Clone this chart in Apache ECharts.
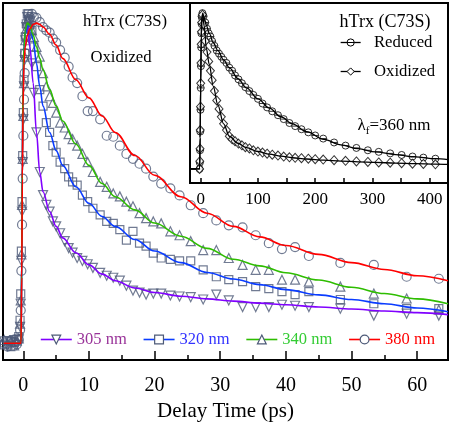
<!DOCTYPE html>
<html><head><meta charset="utf-8">
<script src="https://cdn.jsdelivr.net/npm/echarts@6/dist/echarts.min.js"></script>
<style>html,body{margin:0;padding:0;background:#fff}#c{width:450px;height:427px}</style>
</head><body><div id="c"></div>
<script>
// ---------- main panel: measured transients (normalized) ----------
const delays = [-2.9,-2.4,-1.9,-1.4,-1.0,-0.7,
  -0.5,-0.4,-0.3,-0.2,-0.1,0.0,0.1,0.2,0.3,0.45,0.6,0.8,
  1.0,1.3,1.6,2.0,2.5,3.0,3.5,4.0,4.5,5.0,
  5.6,6.3,6.9,7.5,8.2,9.0,9.8,10.6,
  11.7,12.7,13.7,14.7,15.7,16.7,17.7,18.7,19.8,
  21.0,22.4,23.8,25.5,27.4,29.4,
  31.3,33.4,35.4,37.4,39.4,41.4,43.5,
  48.3,53.4,58.4,63.3];
const sig305 = [0.006,-0.008,0.004,0.01,-0.004,0.012,
  0.05,0.12,0.25,0.4,0.55,0.68,0.78,0.86,0.92,0.96,0.99,0.98,
  0.95,0.85,0.76,0.64,0.52,0.45,0.42,0.4,0.37,0.355,
  0.334,0.31,0.289,0.275,0.259,0.25,0.24,0.229,
  0.214,0.205,0.199,0.19,0.175,0.16,0.154,0.148,0.151,
  0.151,0.145,0.142,0.14,0.133,0.148,
  0.13,0.11,0.11,0.11,0.117,0.114,0.11,
  0.105,0.084,0.09,0.084];
const sig320 = [-0.005,0.008,-0.01,0.003,0.012,0.02,
  0.07,0.15,0.28,0.43,0.57,0.7,0.8,0.88,0.93,0.97,1.0,1.0,
  0.98,0.95,0.9,0.84,0.77,0.72,0.67,0.64,0.6,0.58,
  0.55,0.53,0.505,0.49,0.48,0.45,0.43,0.41,
  0.39,0.37,0.364,0.345,0.313,0.34,0.304,0.295,0.274,
  0.259,0.255,0.25,0.25,0.223,0.202,
  0.193,0.187,0.172,0.166,0.157,0.148,0.157,
  0.133,0.12,0.105,0.105];
const sig340 = [0.01,0.0,0.006,-0.006,0.008,0.015,
  0.06,0.13,0.27,0.42,0.56,0.69,0.79,0.87,0.92,0.955,0.98,0.985,
  0.97,0.95,0.93,0.9,0.87,0.82,0.78,0.75,0.73,0.7,
  0.67,0.655,0.635,0.62,0.6,0.575,0.55,0.52,
  0.49,0.475,0.455,0.446,0.43,0.416,0.395,0.38,0.37,
  0.364,0.34,0.328,0.31,0.283,0.283,
  0.259,0.238,0.223,0.223,0.193,0.193,0.187,
  0.172,0.151,0.136,0.102];
const sig380 = [0.0,-0.01,0.008,0.004,-0.003,0.01,
  0.04,0.1,0.22,0.36,0.5,0.63,0.74,0.82,0.88,0.93,0.96,0.985,
  0.99,1.0,0.99,0.988,0.975,0.96,0.95,0.943,0.925,0.913,
  0.89,0.867,0.84,0.807,0.79,0.75,0.705,0.705,
  0.68,0.63,0.627,0.6,0.575,0.56,0.545,0.53,0.506,
  0.485,0.47,0.449,0.419,0.395,0.373,
  0.358,0.352,0.328,0.304,0.286,0.292,0.265,
  0.244,0.238,0.202,0.196];

// ---------- main panel: fitted curves ----------
const fitTime = [-3,-0.35,-0.25,-0.15,-0.05,0.1,0.3,0.6,1,1.5,2,2.5,3,4,5,6,8,10,12,14,17,20,24,28,32,36,40,45,50,55,60,64.7];
const fit305 = [0,0,0.25,0.55,0.78,0.9,0.95,0.968,0.9,0.79,0.64,0.52,0.46,0.4,0.355,0.32,0.275,0.238,0.21,0.19,0.168,0.154,0.143,0.135,0.128,0.122,0.117,0.11,0.104,0.098,0.093,0.087];
const fit320 = [0,0,0.25,0.55,0.78,0.9,0.94,0.962,0.965,0.92,0.85,0.78,0.72,0.64,0.585,0.54,0.475,0.425,0.385,0.355,0.315,0.28,0.245,0.215,0.195,0.178,0.163,0.147,0.133,0.12,0.107,0.096];
const fit340 = [0,0,0.25,0.55,0.78,0.9,0.95,0.972,0.965,0.935,0.9,0.865,0.83,0.77,0.72,0.675,0.605,0.54,0.485,0.445,0.405,0.365,0.325,0.288,0.255,0.235,0.214,0.192,0.17,0.151,0.135,0.12];
const fit380 = [0,0,0.2,0.5,0.72,0.85,0.9,0.935,0.955,0.968,0.972,0.968,0.96,0.938,0.905,0.865,0.8,0.745,0.69,0.64,0.57,0.51,0.445,0.395,0.355,0.323,0.297,0.27,0.245,0.224,0.205,0.19];

// ---------- inset: 360 nm, reduced vs oxidized ----------
const insetTime = [-2.0,-1.6,-1.2,-0.8,-0.4,0,0.4,0.8,1.2,1.6,2.2,3,
  5,8,11,14,17,20,24,28,32,36,40,45,50,55,60,66,72,78,85,92,
  100,108,116,125,135,145,155,165,176,188,200,214,
  233,253,272,292,311,331,351,370,389,410];
const reduced = [0.0,0.04,0.12,0.24,0.38,0.52,0.66,0.78,0.87,0.93,0.97,1.0,
  0.98,0.94,0.9,0.87,0.85,0.82,0.79,0.76,0.74,0.72,0.7,0.68,0.65,0.63,0.6,0.575,0.55,0.525,0.5,0.475,
  0.45,0.42,0.395,0.37,0.345,0.32,0.295,0.275,0.255,0.235,0.215,0.195,
  0.17,0.15,0.135,0.12,0.11,0.1,0.09,0.08,0.073,0.066];
const oxidized = [0.0,0.05,0.13,0.25,0.4,0.55,0.68,0.8,0.88,0.94,0.98,0.99,
  0.93,0.82,0.75,0.69,0.63,0.57,0.5,0.44,0.385,0.335,0.29,0.25,0.21,0.19,0.178,0.163,0.152,0.14,0.132,0.12,
  0.112,0.105,0.098,0.092,0.086,0.08,0.075,0.072,0.069,0.066,0.063,0.06,
  0.056,0.052,0.048,0.045,0.042,0.04,0.037,0.034,0.032,0.03];
const insetFitTime = [-18.7,-2,-1,0,1,2,3.5,6,10,15,22,30,40,50,65,80,100,120,140,160,185,215,245,275,305,340,375,410,432];
const fitReduced = [0,0,0.2,0.55,0.85,0.97,1.0,0.97,0.92,0.87,0.81,0.76,0.7,0.65,0.58,0.52,0.45,0.39,0.335,0.29,0.24,0.19,0.155,0.13,0.11,0.092,0.077,0.066,0.06];
const fitOxidized = [0,0,0.2,0.55,0.85,0.97,0.99,0.92,0.77,0.67,0.53,0.41,0.29,0.21,0.165,0.137,0.112,0.095,0.082,0.072,0.064,0.057,0.051,0.046,0.042,0.038,0.034,0.031,0.029];

// ---------- ticks ----------
const xTicks = [0,10,20,30,40,50,60];
const xMinorTicks = [5,15,25,35,45,55];
const insetLabels = [0,100,200,300,400];
const insetTicks = [0,50,100,150,200,250,300,350,400];
const seriesNames = ['305 nm','320 nm','340 nm','380 nm'];

const FONT = '"Liberation Serif","Times New Roman",serif';
const MARK = '#4d5a78';
const cfg = [
  {name:seriesNames[0], line:'#8000ff', text:'#993399', sym:'triangle', rot:180, size:9, vals:sig305, fit:fit305},
  {name:seriesNames[1], line:'#0a3cff', text:'#3333ff', sym:'rect', rot:0, size:8, vals:sig320, fit:fit320},
  {name:seriesNames[2], line:'#2ebd00', text:'#33cc33', sym:'triangle', rot:0, size:9, vals:sig340, fit:fit340},
  {name:seriesNames[3], line:'#ff0000', text:'#ff0000', sym:'circle', rot:0, size:9, vals:sig380, fit:fit380}
];
const zip = (a,b) => a.map((t,i)=>[t,b[i]]);
const series = [];
cfg.forEach(c => series.push({
  type:'line', name:c.name, xAxisIndex:0, yAxisIndex:0, data:zip(fitTime,c.fit),
  smooth:0.35, smoothMonotone:'x', showSymbol:false, symbol:c.sym, symbolRotate:c.rot,
  lineStyle:{color:c.line, width:1.6}, itemStyle:{color:c.line}, z:5, silent:true
}));
cfg.forEach(c => series.push({
  type:'scatter', name:c.name, xAxisIndex:0, yAxisIndex:0, data:zip(delays,c.vals),
  symbol:c.sym, symbolRotate:c.rot, symbolSize:c.size,
  itemStyle:{color:'rgba(255,255,255,0)', borderColor:MARK, borderWidth:1.2}, z:3
}));
const RED_SYM = 'path://M0,6 A6,6 0 1 1 12,6 A6,6 0 1 1 0,6 Z M0,6 L12,6';
series.push({type:'line', name:'Reduced', xAxisIndex:2, yAxisIndex:1, data:zip(insetFitTime,fitReduced),
  smooth:0.35, smoothMonotone:'x', showSymbol:false, symbol:RED_SYM, lineStyle:{color:'#000', width:1.3}, itemStyle:{color:'#000'}, z:5});
series.push({type:'line', name:'Oxidized', xAxisIndex:2, yAxisIndex:1, data:zip(insetFitTime,fitOxidized),
  smooth:0.35, smoothMonotone:'x', showSymbol:false, symbol:'diamond', lineStyle:{color:'#000', width:1.3}, itemStyle:{color:'#000'}, z:5});
series.push({type:'scatter', name:'Reduced', xAxisIndex:2, yAxisIndex:1, data:zip(insetTime,reduced),
  symbol:RED_SYM, symbolSize:7, itemStyle:{color:'#fff', borderColor:'#000', borderWidth:1}, z:4});
series.push({type:'scatter', name:'Oxidized', xAxisIndex:2, yAxisIndex:1, data:zip(insetTime,oxidized),
  symbol:'diamond', symbolSize:[8,9], itemStyle:{color:'#fff', borderColor:'#000', borderWidth:1}, z:4});

const option = {
  animation:false,
  backgroundColor:'#fff',
  grid:[
    {left:3, top:3, width:445, height:360, show:true, borderColor:'#000', borderWidth:2, backgroundColor:'transparent'},
    {left:190, top:3, width:258, height:180, show:true, borderColor:'#000', borderWidth:2, backgroundColor:'#fff'}
  ],
  xAxis:[
    {gridIndex:0, type:'value', min:-3.1, max:64.7, position:'bottom',
     axisLine:{show:false, onZero:false}, splitLine:{show:false},
     axisTick:{show:true, inside:true, length:9, customValues:xTicks, lineStyle:{color:'#000', width:1.5}},
     axisLabel:{customValues:xTicks, fontSize:20, fontFamily:FONT, color:'#000', margin:16},
     name:'Delay Time (ps)', nameLocation:'middle', nameGap:37,
     nameTextStyle:{fontSize:21, fontFamily:FONT, color:'#000'}},
    {gridIndex:0, type:'value', min:-3.1, max:64.7, position:'bottom',
     axisLine:{show:false, onZero:false}, splitLine:{show:false}, axisLabel:{show:false},
     axisTick:{show:true, inside:true, length:5, customValues:xMinorTicks, lineStyle:{color:'#000', width:1.5}}},
    {gridIndex:1, type:'value', min:-18.7, max:432, position:'bottom',
     axisLine:{show:false, onZero:false}, splitLine:{show:false},
     axisTick:{show:true, inside:true, length:5, customValues:insetTicks, lineStyle:{color:'#000', width:1.5}},
     axisLabel:{customValues:insetLabels, fontSize:17, fontFamily:FONT, color:'#000', margin:8}}
  ],
  yAxis:[
    {gridIndex:0, type:'value', min:-0.051, max:1.033, show:false},
    {gridIndex:1, type:'value', min:-0.09, max:1.065, position:'left',
     axisLine:{show:false, onZero:false}, splitLine:{show:false}, axisLabel:{show:false},
     axisTick:{show:true, inside:true, length:7, customValues:[0], lineStyle:{color:'#000', width:1.5}}}
  ],
  legend:[
    {data:cfg.map(c=>({name:c.name, itemStyle:{color:'#fff', borderColor:MARK, borderWidth:1.2}, textStyle:{color:c.text}})),
     left:40, top:331, itemWidth:31, itemHeight:11, itemGap:16, padding:0, selectedMode:false,
     lineStyle:{width:1.6}, textStyle:{fontFamily:FONT, fontSize:16.5}},
    {data:[{name:'Reduced', itemStyle:{color:'#fff', borderColor:'#000', borderWidth:1}},
           {name:'Oxidized', itemStyle:{color:'#fff', borderColor:'#000', borderWidth:1}}],
     orient:'vertical', left:340, top:34, itemWidth:20, itemHeight:9, itemGap:12, padding:0, selectedMode:false,
     formatter: n => '  ' + n,
     lineStyle:{width:1.3}, textStyle:{fontFamily:FONT, fontSize:16.7, color:'#000'}}
  ],
  graphic:[
    {type:'text', x:125, y:22, style:{text:'hTrx (C73S)', font:'16.7px ' + FONT, fill:'#000', align:'center', verticalAlign:'middle'}},
    {type:'text', x:121, y:58, style:{text:'Oxidized', font:'16.7px ' + FONT, fill:'#000', align:'center', verticalAlign:'middle'}, z:10},
    {type:'text', x:385, y:22, style:{text:'hTrx (C73S)', font:'18px ' + FONT, fill:'#000', align:'center', verticalAlign:'middle'}, z:10},
    {type:'text', x:394, y:126, z:10, style:{text:'{a|λ}{s|f}{a|=360 nm}', align:'center', verticalAlign:'middle',
      rich:{a:{fontSize:17, fontFamily:FONT, fill:'#000', lineHeight:22, verticalAlign:'middle'},
            s:{fontSize:11, fontFamily:FONT, fill:'#000', lineHeight:11, verticalAlign:'bottom'}}}}
  ],
  series:series
};
const chart = echarts.init(document.getElementById('c'), null, {renderer:'canvas'});
chart.setOption(option);
</script></body></html>
